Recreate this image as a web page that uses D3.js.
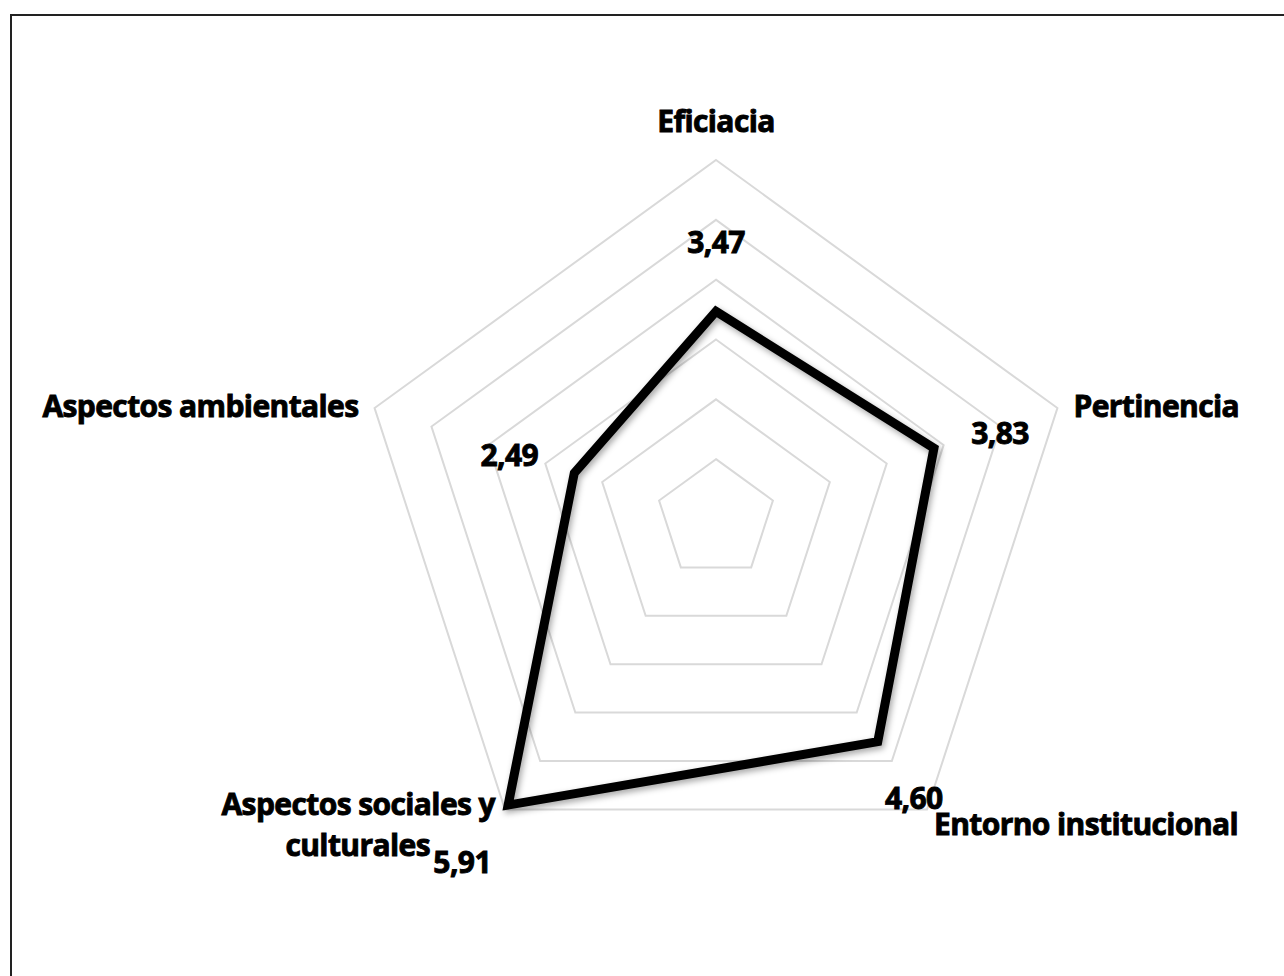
<!DOCTYPE html>
<html>
<head>
<meta charset="utf-8">
<script src="https://cdn.jsdelivr.net/npm/d3@7"></script>
<style>
  body { margin: 0; background: #fff; }
  text { font-family: "Open Sans", Lato, sans-serif; font-weight: 700; fill: #000; stroke: #000; stroke-width: 0.9px; }
</style>
</head>
<body>
<script>
// radar data
const categories = ["Eficiacia", "Pertinencia", "Entorno institucional", "Aspectos sociales y culturales", "Aspectos ambientales"];
const values = [3.47, 3.83, 4.60, 5.91, 2.49];
const valueLabels = ["3,47", "3,83", "4,60", "5,91", "2,49"];
const gridLevels = [1, 2, 3, 4, 5, 6];

const width = 1284, height = 976;
const cx = 716, cy = 519, maxR = 359;

const svg = d3.select("body").append("svg")
    .attr("width", width)
    .attr("height", height);

const defs = svg.append("defs");
const f = defs.append("filter").attr("id", "shadow")
    .attr("x", "-10%").attr("y", "-10%").attr("width", "120%").attr("height", "120%");
f.append("feDropShadow").attr("dx", 2).attr("dy", 3).attr("stdDeviation", 3)
    .attr("flood-color", "#000").attr("flood-opacity", 0.35);

// frame (only top and left visible)
svg.append("path")
    .attr("d", `M11,${height} V15 H${width}`)
    .attr("fill", "none")
    .attr("stroke", "#222")
    .attr("stroke-width", 2);

const r = d3.scaleLinear().domain([0, 6]).range([0, maxR]);
const angle = d3.scaleLinear().domain([0, categories.length]).range([0, 2 * Math.PI]);

function pt(i, v) {
    const a = angle(i);
    return [cx + r(v) * Math.sin(a), cy - r(v) * Math.cos(a)];
}

const g = svg.append("g");

// grid pentagons
g.selectAll(".ring")
    .data(gridLevels)
    .join("polygon")
    .attr("class", "ring")
    .attr("points", lv => categories.map((c, i) => pt(i, lv).join(",")).join(" "))
    .attr("fill", "none")
    .attr("stroke", "#d9d9d9")
    .attr("stroke-width", 2);

// data polygon
g.append("polygon")
    .attr("points", values.map((v, i) => pt(i, v).join(",")).join(" "))
    .attr("fill", "none")
    .attr("stroke", "#000")
    .attr("stroke-width", 9)
    .attr("stroke-linejoin", "miter")
    .attr("filter", "url(#shadow)");

const fontSize = "30px", spacing = "-0.6px";

// category labels (offsets from outer vertex)
const catStyle = [
    { dx: 0, dy: -28, anchor: "middle" },
    { dx: 16, dy: 9, anchor: "start" },
    { dx: 7, dy: 26, anchor: "start" },
    { dx: -10, dy: 6, anchor: "end", dx2: -75 },
    { dx: -16, dy: 9, anchor: "end" }
];
categories.forEach((c, i) => {
    const [x, y] = pt(i, 6);
    const s = catStyle[i];
    const t = svg.append("text")
        .attr("x", x + s.dx)
        .attr("y", y + s.dy)
        .attr("text-anchor", s.anchor)
        .style("font-size", fontSize)
        .style("letter-spacing", spacing);
    if (i === 3) {
        t.append("tspan").attr("x", x + s.dx).text("Aspectos sociales y");
        t.append("tspan").attr("x", x + s.dx2).attr("dy", 41).text("culturales");
    } else {
        t.text(c);
    }
});

// value labels (offsets from data point)
const valStyle = [
    { dx: 0, dy: -58, anchor: "middle" },
    { dx: 66, dy: -4, anchor: "middle" },
    { dx: 36, dy: 67, anchor: "middle" },
    { dx: -46, dy: 68, anchor: "middle" },
    { dx: -65, dy: -7, anchor: "middle" }
];
values.forEach((v, i) => {
    const [x, y] = pt(i, v);
    const s = valStyle[i];
    svg.append("text")
        .attr("x", x + s.dx)
        .attr("y", y + s.dy)
        .attr("text-anchor", s.anchor)
        .style("font-size", fontSize)
        .style("letter-spacing", spacing)
        .text(valueLabels[i]);
});
</script>
</body>
</html>
